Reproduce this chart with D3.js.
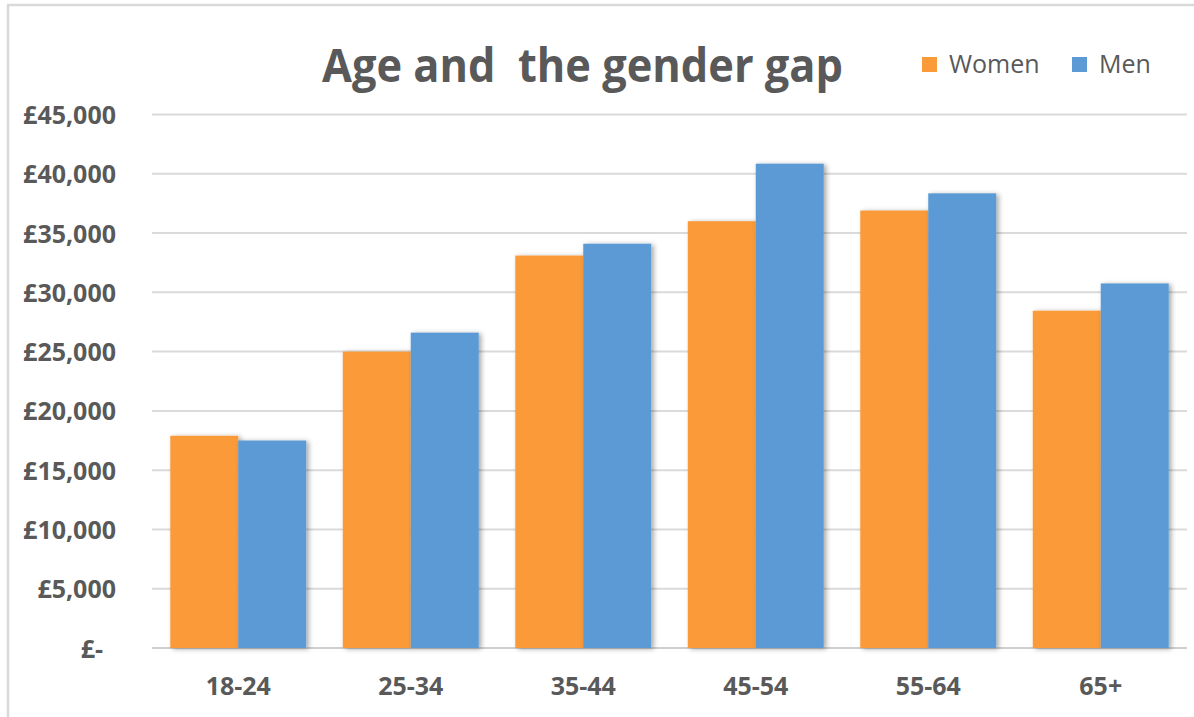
<!DOCTYPE html>
<html>
<head>
<meta charset="utf-8">
<script src="https://cdn.jsdelivr.net/npm/d3@7/dist/d3.min.js"></script>
<style>
  html, body { margin: 0; padding: 0; background: #fff; }
  svg { display: block; }
</style>
</head>
<body>
<svg id="chart" width="1194" height="717"></svg>
<script>
// Average annual pay by age band, split by gender
const ageBands = ["18-24", "25-34", "35-44", "45-54", "55-64", "65+"];
const women = [17900, 25000, 33100, 36000, 36900, 28450];
const men   = [17500, 26600, 34100, 40850, 38350, 30750];
const seriesNames = ["Women", "Men"];
const seriesColors = ["#FA9A38", "#5B9AD5"];
const yTicks = [0, 5000, 10000, 15000, 20000, 25000, 30000, 35000, 40000, 45000];
const titleText = "Age and  the gender gap";

const svg = d3.select("#chart");
const W = 1194, H = 717;
const textColor = "#595959";
const labelFont = "'Open Sans', sans-serif";

// Outer chart frame
svg.append("rect")
  .attr("x", 8).attr("y", 5)
  .attr("width", W + 10).attr("height", H + 10)
  .attr("fill", "#fff")
  .attr("stroke", "#d9d9d9").attr("stroke-width", 2.5);

// Soft shadow used on the columns
const defs = svg.append("defs");
const f = defs.append("filter").attr("id", "barShadow")
  .attr("x", "-20%").attr("y", "-10%").attr("width", "140%").attr("height", "120%");
f.append("feDropShadow")
  .attr("dx", 2.5).attr("dy", 1)
  .attr("stdDeviation", 2.5)
  .attr("flood-color", "#000").attr("flood-opacity", 0.35);

const plot = { left: 152, right: 1187, top: 114.5, bottom: 648 };

const x = d3.scaleBand()
  .domain(ageBands)
  .range([plot.left, plot.right])
  .paddingInner(0.212)
  .paddingOuter(0.106);

const xSeries = d3.scaleBand()
  .domain(seriesNames)
  .range([0, x.bandwidth()])
  .padding(0);

const y = d3.scaleLinear()
  .domain([0, 45000])
  .range([plot.bottom, plot.top]);

const fmt = v => v === 0 ? "£-" : "£" + d3.format(",")(v);

// Horizontal gridlines
svg.append("g")
  .selectAll("line")
  .data(yTicks)
  .join("line")
  .attr("x1", plot.left).attr("x2", plot.right)
  .attr("y1", d => y(d)).attr("y2", d => y(d))
  .attr("stroke", d => d === 0 ? "#cfcfcf" : "#dadada")
  .attr("stroke-width", 2);

// Y axis labels
const yAxis = d3.axisLeft(y).tickValues(yTicks).tickFormat(fmt).tickSize(0).tickPadding(0);
const gy = svg.append("g")
  .attr("transform", `translate(116,0)`)
  .call(yAxis);
gy.select(".domain").remove();
gy.selectAll("text")
  .style("font-family", labelFont)
  .style("font-size", "25px")
  .style("font-weight", 700)
  .style("fill", textColor)
  .attr("dx", d => d === 0 ? -13 : 0)
  .attr("dy", "0.36em");

// Columns
const data = ageBands.map((a, i) => ({ band: a, values: [women[i], men[i]] }));
const groups = svg.append("g")
  .selectAll("g")
  .data(data)
  .join("g")
  .attr("transform", d => `translate(${x(d.band)},0)`);

groups.selectAll("rect")
  .data(d => d.values.map((v, j) => ({ key: seriesNames[j], value: v, j })))
  .join("rect")
  .attr("x", d => xSeries(d.key))
  .attr("y", d => y(d.value))
  .attr("width", xSeries.bandwidth())
  .attr("height", d => y(0) - y(d.value))
  .attr("fill", d => seriesColors[d.j])
  .attr("filter", "url(#barShadow)");

// X axis labels
const xAxis = d3.axisBottom(x).tickSize(0).tickPadding(0);
const gx = svg.append("g")
  .attr("transform", `translate(0,${plot.bottom})`)
  .call(xAxis);
gx.select(".domain").remove();
gx.selectAll("text")
  .style("font-family", labelFont)
  .style("font-size", "25px")
  .style("font-weight", 700)
  .style("fill", textColor)
  .attr("dy", 0)
  .attr("y", 47);

// Title
svg.append("text")
  .attr("x", 322)
  .attr("y", 82)
  .attr("textLength", 521)
  .attr("lengthAdjust", "spacingAndGlyphs")
  .style("font-family", labelFont)
  .style("font-size", "47px")
  .style("font-weight", 700)
  .style("fill", textColor)
  .style("white-space", "pre")
  .text(titleText);

// Legend
const legendX = [922, 1072];
const legend = svg.append("g")
  .selectAll("g")
  .data(seriesNames)
  .join("g")
  .attr("transform", (d, i) => `translate(${legendX[i]},57)`);
legend.append("rect")
  .attr("width", 15).attr("height", 15)
  .attr("fill", (d, i) => seriesColors[i]);
legend.append("text")
  .attr("x", 27).attr("y", 16)
  .style("font-family", labelFont)
  .style("font-size", "25px")
  .style("fill", textColor)
  .text(d => d);
</script>
</body>
</html>
